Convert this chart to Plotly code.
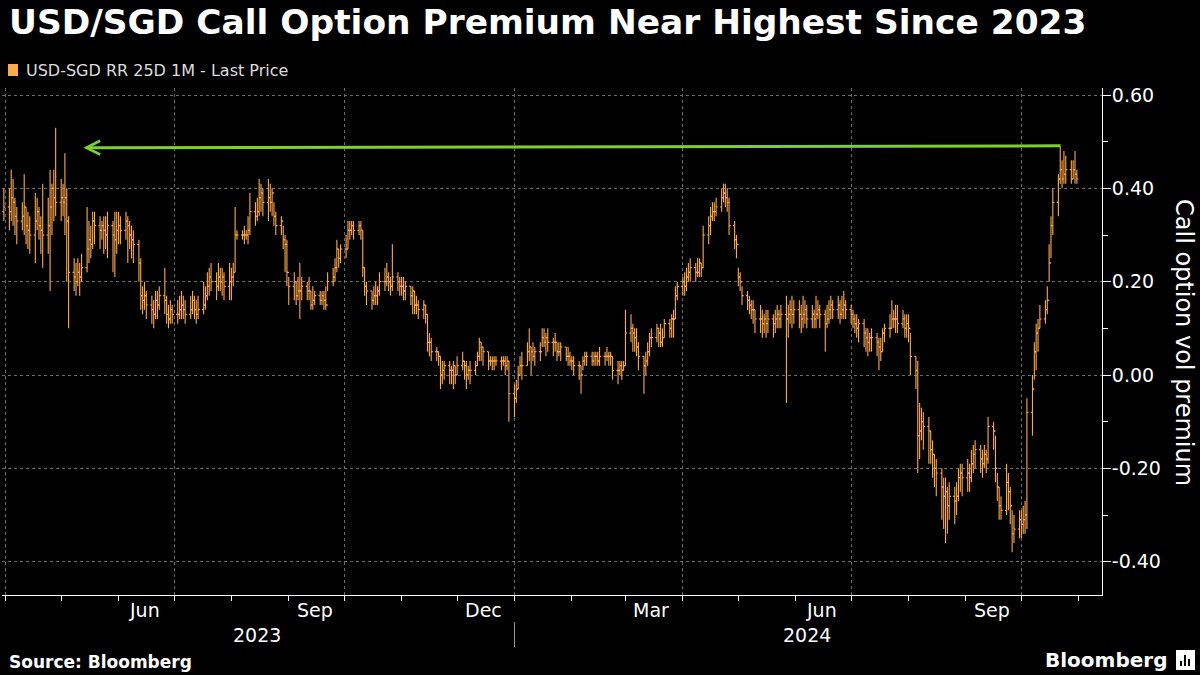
import plotly.graph_objects as go
import pandas as pd

# ---------------- data ----------------
# one value per business day, 2023-03-31 .. 2024-10-31, each line = one month
close_values = [
    0.36,
    0.35,0.38,0.37,0.34,0.33,0.34,0.36,0.32,0.31,0.30,0.33,0.35,0.32,0.31,0.30,0.32,0.36,0.40,0.38,0.37,
    0.38,0.37,0.38,0.33,0.22,0.21,0.20,0.22,0.21,0.23,0.27,0.29,0.28,0.33,0.32,0.31,0.32,0.31,0.30,0.32,0.30,0.29,0.31,
    0.32,0.31,0.33,0.32,0.30,0.29,0.28,0.24,0.17,0.16,0.17,0.15,0.14,0.13,0.16,0.15,0.17,0.16,0.13,0.12,0.14,0.13,
    0.13,0.14,0.15,0.14,0.13,0.14,0.16,0.14,0.13,0.14,0.15,0.17,0.19,0.21,0.20,0.19,0.21,0.20,0.21,0.19,0.20,
    0.21,0.22,0.30,0.30,0.30,0.30,0.30,0.31,0.35,0.34,0.35,0.38,0.39,0.37,0.38,0.37,0.39,0.34,0.32,0.33,0.29,0.28,0.22,
    0.19,0.20,0.17,0.18,0.18,0.19,0.18,0.18,0.15,0.16,0.17,0.16,0.17,0.16,0.15,0.20,0.21,0.23,0.27,0.25,0.27,
    0.27,0.31,0.31,0.32,0.31,0.32,0.31,0.23,0.19,0.18,0.16,0.17,0.17,0.18,0.20,0.20,0.21,0.20,0.19,0.21,0.20,0.19,
    0.19,0.18,0.19,0.17,0.18,0.15,0.15,0.14,0.15,0.13,0.07,0.07,0.05,0.05,0.04,0.00,0.01,0.02,0.01,0.01,0.02,0.00,
    0.02,0.03,0.02,0.00,0.01,0.01,0.02,0.04,0.07,0.06,0.05,0.03,0.03,0.03,0.03,0.03,0.03,0.03,0.02,0.03,-0.04,
    -0.05,-0.03,0.00,0.02,0.02,0.05,0.06,0.05,0.04,0.05,0.05,0.08,0.07,0.08,0.07,0.07,0.07,0.05,0.05,0.06,0.04,0.04,0.03,
    0.03,0.02,0.02,0.00,0.03,0.04,0.04,0.03,0.04,0.04,0.03,0.04,0.04,0.04,0.04,0.04,0.01,0.01,0.02,0.01,0.02,
    0.09,0.10,0.09,0.08,0.06,0.04,0.02,0.03,0.05,0.08,0.08,0.10,0.09,0.07,0.08,0.11,0.10,0.12,0.12,0.17,0.19,
    0.20,0.19,0.21,0.22,0.23,0.22,0.22,0.24,0.23,0.30,0.32,0.34,0.35,0.35,0.36,0.38,0.39,0.38,0.37,0.32,0.29,0.28,
    0.21,0.20,0.17,0.16,0.15,0.14,0.14,0.12,0.12,0.11,0.12,0.11,0.12,0.11,0.12,0.13,0.12,0.13,0.12,0.13,0.14,0.13,0.14,
    0.13,0.12,0.13,0.14,0.12,0.13,0.12,0.13,0.14,0.13,0.11,0.12,0.14,0.15,0.14,0.15,0.13,0.14,0.15,0.14,
    0.13,0.12,0.11,0.10,0.11,0.09,0.08,0.07,0.08,0.08,0.07,0.06,0.05,0.09,0.10,0.10,0.12,0.12,0.12,0.11,0.12,0.10,0.11,
    0.10,0.04,0.01,-0.13,-0.12,-0.10,-0.11,-0.12,-0.16,-0.17,-0.20,-0.21,-0.24,-0.26,-0.25,-0.28,-0.26,-0.27,-0.26,-0.22,-0.21,-0.22,
    -0.21,-0.22,-0.19,-0.17,-0.16,-0.18,-0.19,-0.17,-0.18,-0.11,-0.12,-0.20,-0.24,-0.28,-0.29,-0.23,-0.25,-0.28,-0.34,-0.33,-0.31,
    -0.32,-0.31,-0.30,-0.08,-0.03,0.05,0.09,0.10,0.12,0.14,0.16,0.24,0.32,0.37,0.42,0.44,0.42,0.43,0.44,0.42,0.44,0.43,0.42,
]
high_values = [
    0.40,
    0.40,0.44,0.42,0.38,0.36,0.37,0.43,0.36,0.35,0.34,0.39,0.38,0.36,0.34,0.41,0.38,0.44,0.41,0.44,0.53,
    0.42,0.41,0.475,0.40,0.34,0.25,0.24,0.25,0.24,0.26,0.36,0.33,0.32,0.35,0.35,0.34,0.33,0.34,0.34,0.35,0.33,0.35,0.35,
    0.35,0.34,0.35,0.34,0.33,0.32,0.31,0.29,0.25,0.19,0.20,0.18,0.17,0.16,0.18,0.18,0.19,0.23,0.17,0.15,0.16,0.15,
    0.16,0.17,0.18,0.17,0.16,0.17,0.18,0.17,0.16,0.17,0.20,0.19,0.22,0.23,0.24,0.22,0.24,0.23,0.23,0.22,0.24,
    0.23,0.24,0.36,0.31,0.31,0.32,0.31,0.34,0.39,0.37,0.38,0.42,0.41,0.40,0.42,0.41,0.40,0.37,0.35,0.34,0.32,0.30,0.29,
    0.21,0.22,0.20,0.21,0.24,0.21,0.20,0.21,0.18,0.19,0.18,0.18,0.18,0.18,0.19,0.22,0.23,0.25,0.29,0.27,0.28,
    0.30,0.33,0.33,0.33,0.33,0.33,0.33,0.31,0.23,0.20,0.18,0.19,0.20,0.19,0.22,0.23,0.24,0.22,0.21,0.28,0.22,0.21,
    0.21,0.21,0.20,0.19,0.19,0.18,0.17,0.16,0.16,0.15,0.13,0.09,0.08,0.06,0.05,0.04,0.03,0.03,0.03,0.02,0.03,0.02,
    0.04,0.05,0.03,0.03,0.02,0.03,0.03,0.05,0.08,0.07,0.06,0.05,0.04,0.04,0.04,0.04,0.04,0.04,0.04,0.04,0.03,
    -0.02,-0.01,0.02,0.04,0.05,0.07,0.10,0.06,0.07,0.06,0.07,0.10,0.10,0.09,0.10,0.08,0.09,0.07,0.07,0.07,0.06,0.06,0.05,
    0.04,0.04,0.03,0.02,0.04,0.05,0.05,0.05,0.05,0.05,0.05,0.06,0.05,0.06,0.05,0.05,0.04,0.03,0.03,0.03,0.03,
    0.14,0.13,0.11,0.10,0.10,0.07,0.04,0.05,0.07,0.09,0.10,0.11,0.10,0.11,0.10,0.12,0.12,0.13,0.14,0.19,0.20,
    0.21,0.22,0.23,0.24,0.25,0.24,0.25,0.25,0.24,0.32,0.34,0.36,0.37,0.37,0.38,0.40,0.41,0.41,0.40,0.38,0.33,0.30,
    0.23,0.22,0.19,0.18,0.17,0.16,0.16,0.14,0.15,0.14,0.13,0.14,0.14,0.13,0.14,0.15,0.14,0.15,0.17,0.15,0.16,0.17,0.16,
    0.16,0.15,0.17,0.16,0.15,0.15,0.14,0.17,0.16,0.15,0.14,0.15,0.16,0.17,0.16,0.17,0.16,0.17,0.18,0.16,
    0.15,0.14,0.13,0.13,0.12,0.12,0.10,0.10,0.09,0.10,0.09,0.08,0.08,0.10,0.11,0.13,0.16,0.14,0.15,0.15,0.14,0.13,0.13,
    0.13,0.09,0.04,0.03,-0.06,-0.07,-0.08,-0.09,-0.12,-0.14,-0.17,-0.18,-0.20,-0.22,-0.22,-0.24,-0.23,-0.24,-0.23,-0.20,-0.19,-0.19,
    -0.18,-0.19,-0.16,-0.15,-0.14,-0.15,-0.16,-0.15,-0.16,-0.09,-0.10,-0.13,-0.21,-0.24,-0.26,-0.19,-0.21,-0.24,-0.29,-0.30,-0.29,
    -0.29,-0.28,-0.27,-0.05,0.00,0.07,0.11,0.12,0.15,0.16,0.19,0.28,0.34,0.40,0.43,0.49,0.46,0.48,0.47,0.46,0.46,0.48,0.44,
]
low_values = [
    0.33,
    0.31,0.33,0.32,0.30,0.28,0.31,0.30,0.28,0.27,0.26,0.24,0.31,0.29,0.26,0.23,0.26,0.18,0.30,0.33,0.34,
    0.33,0.34,0.30,0.20,0.10,0.18,0.17,0.19,0.17,0.20,0.22,0.24,0.25,0.27,0.28,0.27,0.29,0.26,0.27,0.25,0.22,0.21,0.26,
    0.28,0.28,0.29,0.24,0.27,0.25,0.24,0.20,0.14,0.13,0.14,0.12,0.11,0.10,0.12,0.12,0.14,0.13,0.11,0.10,0.11,0.11,
    0.11,0.12,0.12,0.12,0.11,0.12,0.13,0.12,0.11,0.12,0.13,0.14,0.16,0.17,0.18,0.16,0.18,0.18,0.17,0.16,0.16,
    0.16,0.19,0.22,0.29,0.29,0.28,0.29,0.28,0.30,0.32,0.33,0.34,0.35,0.34,0.33,0.35,0.34,0.32,0.30,0.30,0.27,0.22,0.19,
    0.15,0.16,0.15,0.16,0.12,0.16,0.16,0.16,0.14,0.14,0.15,0.15,0.15,0.14,0.14,0.18,0.19,0.20,0.22,0.23,0.24,
    0.25,0.27,0.29,0.30,0.29,0.30,0.29,0.21,0.17,0.15,0.14,0.15,0.15,0.15,0.17,0.18,0.19,0.18,0.17,0.18,0.18,0.17,
    0.17,0.16,0.16,0.15,0.13,0.13,0.13,0.12,0.12,0.11,0.05,0.04,0.03,0.03,0.02,-0.03,-0.02,-0.01,-0.02,-0.02,-0.03,-0.02,
    0.00,0.01,-0.01,-0.03,-0.01,-0.02,0.00,0.02,0.03,0.03,0.02,0.01,0.02,0.01,0.01,0.02,0.01,0.02,0.00,0.01,-0.10,
    -0.09,-0.06,-0.03,0.00,-0.01,0.02,0.03,0.00,0.03,0.02,0.03,0.06,0.06,0.04,0.05,0.04,0.05,0.03,0.04,0.03,0.03,0.02,0.02,
    0.01,0.00,-0.01,-0.04,0.01,0.02,0.02,0.02,0.02,0.02,0.02,0.02,0.02,0.03,0.02,0.02,-0.01,-0.02,0.00,-0.01,0.01,
    0.02,0.07,0.05,0.05,0.04,0.01,-0.04,0.00,0.02,0.04,0.06,0.07,0.06,0.06,0.06,0.08,0.08,0.08,0.08,0.12,0.16,
    0.17,0.17,0.18,0.20,0.20,0.20,0.21,0.21,0.21,0.23,0.28,0.30,0.33,0.33,0.34,0.35,0.37,0.36,0.35,0.30,0.27,0.25,
    0.19,0.18,0.15,0.14,0.13,0.12,0.11,0.09,0.09,0.08,0.09,0.08,0.09,0.08,0.09,0.10,0.10,0.10,-0.06,0.08,0.11,0.10,0.11,
    0.10,0.09,0.10,0.11,0.10,0.10,0.10,0.10,0.12,0.10,0.05,0.10,0.11,0.12,0.12,0.12,0.11,0.12,0.12,0.12,
    0.11,0.10,0.09,0.08,0.07,0.06,0.05,0.04,0.05,0.05,0.04,0.01,0.03,0.05,0.07,0.08,0.10,0.10,0.09,0.09,0.10,0.08,0.08,
    0.07,0.00,-0.03,-0.21,-0.18,-0.14,-0.16,-0.19,-0.19,-0.22,-0.24,-0.26,-0.31,-0.33,-0.36,-0.34,-0.31,-0.32,-0.30,-0.27,-0.25,-0.26,
    -0.25,-0.25,-0.23,-0.21,-0.20,-0.21,-0.22,-0.20,-0.21,-0.19,-0.16,-0.23,-0.27,-0.31,-0.31,-0.30,-0.29,-0.32,-0.38,-0.36,-0.35,
    -0.35,-0.34,-0.34,-0.33,-0.13,-0.01,0.01,0.05,0.10,0.11,0.13,0.20,0.25,0.30,0.34,0.41,0.40,0.41,0.41,0.41,0.42,0.41,0.41,
]
first_open = 0.35

dates = pd.bdate_range("2023-03-31", "2024-10-31")
assert len(dates) == len(close_values) == len(high_values) == len(low_values), (
    len(dates), len(close_values), len(high_values), len(low_values))
open_values = [first_open] + close_values[:-1]

# axis labels
y_tick_values = [-0.4, -0.2, 0.0, 0.2, 0.4, 0.6]
y_tick_labels = ["-0.40", "-0.20", "0.00", "0.20", "0.40", "0.60"]
quarter_starts = ["2023-04-01", "2023-07-01", "2023-10-01", "2024-01-01",
                  "2024-04-01", "2024-07-01", "2024-10-01"]
month_label_dates = ["2023-06-15", "2023-09-15", "2023-12-15",
                     "2024-03-15", "2024-06-15", "2024-09-15"]
month_labels = ["Jun", "Sep", "Dec", "Mar", "Jun", "Sep"]
year_label_dates = ["2023-08-15", "2024-06-07"]
year_labels = ["2023", "2024"]
year_boundary = "2024-01-01"

# arrow marking the earlier high
arrow_from = ("2024-10-23", 0.491)
arrow_to = ("2023-05-13", 0.487)

title_text = "USD/SGD Call Option Premium Near Highest Since 2023"
series_name = "USD-SGD RR 25D 1M - Last Price"
y_title = "Call option vol premium"
source_text = "Source: Bloomberg"

# ---------------- layout geometry ----------------
W, H = 1200, 675
L, R, T, B = 2, 98, 88, 80
PW, PH = W - L - R, H - T - B
def px(x): return (x - L) / PW
def py(y): return (H - B - y) / PH

ORANGE = "#FFA94D"
GREEN = "#7CD12A"
GRID = "#6a6a6a"
FONT = "DejaVu Sans"

# OHLC bars drawn as one line trace: high-low stem, open tick left, close tick right
tick = pd.Timedelta(hours=21)
bar_x, bar_y = [], []
for d, o, h, l, c in zip(dates, open_values, high_values, low_values, close_values):
    bar_x += [d, d, None, d - tick, d, None, d, d + tick, None]
    bar_y += [l, h, None, o, o, None, c, c, None]

fig = go.Figure()
fig.add_trace(go.Scatter(
    x=bar_x, y=bar_y, mode="lines", connectgaps=False,
    line=dict(color=ORANGE, width=1.1), name=series_name,
    showlegend=False, hoverinfo="skip",
))

fig.update_layout(
    width=W, height=H,
    margin=dict(l=L, r=R, t=T, b=B),
    paper_bgcolor="black", plot_bgcolor="black",
    font=dict(family=FONT, color="white"),
    showlegend=False,
)
fig.update_xaxes(
    type="date", range=["2023-03-30", "2024-11-13 14:00"],
    tickmode="array", tickvals=quarter_starts, showticklabels=False,
    ticks="outside", ticklen=5, tickcolor="white", tickwidth=1,
    showgrid=True, gridcolor=GRID, griddash="dot", gridwidth=1,
    minor=dict(dtick="M1", tick0="2023-04-01", ticks="outside", ticklen=5,
               tickcolor="white", tickwidth=1, showgrid=False),
    showline=True, linecolor="white", linewidth=1,
    zeroline=False, fixedrange=True,
)
fig.update_yaxes(
    side="right", range=[-0.4714, 0.615],
    tickmode="array", tickvals=y_tick_values, ticktext=y_tick_labels,
    ticks="outside", ticklen=8, tickcolor="white", tickwidth=1,
    tickfont=dict(size=19, color="white", family=FONT),
    ticklabelstandoff=-3,
    minor=dict(dtick=0.1, tick0=0, ticks="outside", ticklen=5,
               tickcolor="white", tickwidth=1, showgrid=False),
    showgrid=True, gridcolor=GRID, griddash="dot", gridwidth=1,
    showline=True, linecolor="white", linewidth=1,
    zeroline=False, fixedrange=True,
)

ann = []
# title
ann.append(dict(text="<b>" + title_text + "</b>", x=px(7), y=py(22), xref="paper", yref="paper",
                xanchor="left", yanchor="middle", showarrow=False,
                font=dict(size=34.4, color="white", family=FONT)))
# legend text
ann.append(dict(text=series_name, x=px(24), y=py(70), xref="paper", yref="paper",
                xanchor="left", yanchor="middle", showarrow=False,
                font=dict(size=16, color="#dddddd", family=FONT)))
# y axis title
ann.append(dict(text=y_title, x=px(1184), y=py(342), xref="paper", yref="paper",
                xanchor="center", yanchor="middle", showarrow=False, textangle=90,
                font=dict(size=24, color="white", family=FONT)))
# month labels
for d, t in zip(month_label_dates, month_labels):
    ann.append(dict(text=t, x=d, y=py(610), xref="x", yref="paper",
                    xanchor="center", yanchor="middle", showarrow=False,
                    font=dict(size=19, color="white", family=FONT)))
for d, t in zip(year_label_dates, year_labels):
    ann.append(dict(text=t, x=d, y=py(635), xref="x", yref="paper",
                    xanchor="center", yanchor="middle", showarrow=False,
                    font=dict(size=19, color="white", family=FONT)))
# source + brand
ann.append(dict(text="<b>" + source_text + "</b>", x=px(7), y=py(662), xref="paper", yref="paper",
                xanchor="left", yanchor="middle", showarrow=False,
                font=dict(size=17, color="white", family=FONT)))
ann.append(dict(text="<b>Bloomberg</b>", x=px(1169), y=py(660), xref="paper", yref="paper",
                xanchor="right", yanchor="middle", showarrow=False,
                font=dict(size=20, color="white", family=FONT)))
# green arrow
ann.append(dict(text="", x=arrow_to[0], y=arrow_to[1], xref="x", yref="y",
                ax=arrow_from[0], ay=arrow_from[1], axref="x", ayref="y",
                showarrow=True, arrowhead=5, arrowsize=0.9, arrowwidth=3,
                arrowcolor=GREEN, standoff=0, startstandoff=0))
fig.update_layout(annotations=ann)

shapes = []
# legend swatch
shapes.append(dict(type="rect", xref="paper", yref="paper",
                   x0=px(8), x1=px(18), y0=py(76), y1=py(64),
                   fillcolor=ORANGE, line=dict(width=0)))
# year separator
shapes.append(dict(type="line", xref="x", yref="paper", x0=year_boundary, x1=year_boundary,
                   y0=py(622), y1=py(647), line=dict(color="#9a9a9a", width=1)))
# bloomberg icon
shapes.append(dict(type="rect", xref="paper", yref="paper",
                   x0=px(1176), x1=px(1195), y0=py(670), y1=py(650),
                   fillcolor="white", line=dict(width=0)))
for bx0, bx1, top in [(1180, 1182, 661), (1184, 1186, 655), (1188, 1190, 659)]:
    shapes.append(dict(type="rect", xref="paper", yref="paper",
                       x0=px(bx0), x1=px(bx1), y0=py(666), y1=py(top),
                       fillcolor="black", line=dict(width=0)))
fig.update_layout(shapes=shapes)

fig.write_html("out.html", config={"displayModeBar": False},
               post_script="document.body.style.margin='0';document.body.style.background='black';")
